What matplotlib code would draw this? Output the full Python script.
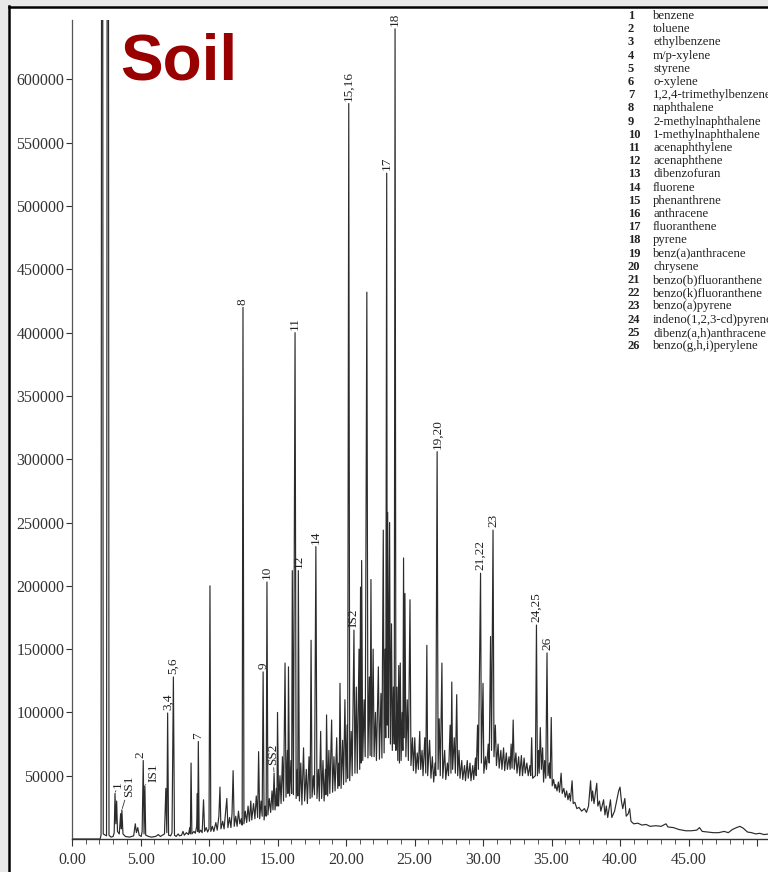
import matplotlib
matplotlib.use("Agg")
import matplotlib.pyplot as plt
from matplotlib.ticker import FixedLocator, MultipleLocator, FuncFormatter
from matplotlib.patches import Rectangle
from matplotlib.lines import Line2D

# trace vertices: (retention time in min, abundance)
trace_early = [
    (0.0, 0), (2.05, 0), (2.12, 3000), (2.2, 1500000), (2.28, 4000), (2.52, 2500),
    (2.62, 1500000), (2.7, 3000), (2.85, 1500), (3.0, 2000), (3.08, 5000), (3.14, 36000),
    (3.2, 12000), (3.26, 30000), (3.32, 6000), (3.45, 4000), (3.55, 20000), (3.6, 8000),
    (3.64, 23000), (3.72, 4000), (3.9, 2000), (4.2, 1500), (4.5, 2500), (4.62, 12000),
    (4.7, 5000), (4.8, 9000), (4.9, 3000), (5.05, 2000), (5.12, 6000), (5.2, 62000),
    (5.26, 4000), (5.32, 42000), (5.38, 3000), (5.6, 2000), (5.8, 1500), (6.1, 2000),
    (6.3, 3500), (6.45, 2000), (6.6, 3000), (6.75, 4000), (6.85, 40000), (6.92, 5000),
    (6.98, 99500), (7.05, 3000), (7.2, 2500), (7.3, 5000), (7.4, 128000), (7.48, 3000),
    (7.6, 2000), (7.75, 4000), (7.85, 2500), (8.0, 3000), (8.1, 6000), (8.2, 3000),
    (8.35, 5000), (8.5, 3500), (8.6, 9000), (8.64, 4000), (8.69, 60000), (8.75, 4000),
    (8.9, 6000), (9.0, 4500), (9.1, 10000), (9.15, 36000), (9.18, 6000), (9.22, 77000),
    (9.28, 5000), (9.4, 7000), (9.5, 5000), (9.6, 31000), (9.68, 6000), (9.8, 9000),
    (9.9, 5500), (10.0, 8000), (10.07, 200000), (10.13, 6000),
]

trace_mid = [
    (10.25, 10000), (10.35, 6000), (10.5, 13000), (10.6, 7000), (10.72, 18000), (10.8, 41000),
    (10.87, 8000), (11.0, 14000), (11.1, 8000), (11.2, 20000), (11.3, 32000), (11.38, 9000),
    (11.5, 17000), (11.6, 9000), (11.68, 20000), (11.76, 54000), (11.84, 10000), (11.95, 18000),
    (12.05, 10000), (12.15, 22000), (12.25, 12000), (12.35, 16000), (12.42, 11000), (12.48, 420000),
    (12.55, 12000), (12.65, 22000), (12.75, 13000), (12.85, 26000), (12.95, 14000), (13.05, 30000),
    (13.12, 15000), (13.25, 28000), (13.35, 16000), (13.45, 34000), (13.55, 17000), (13.62, 69000),
    (13.7, 16000), (13.8, 30000), (13.88, 18000), (13.95, 132000), (14.02, 15000), (14.1, 26000),
    (14.17, 18000), (14.23, 203000), (14.3, 19000), (14.4, 32000), (14.5, 21000), (14.6, 38000),
    (14.67, 23000), (14.75, 52000), (14.82, 23000), (14.92, 40000), (14.96, 26000), (15.0, 100000),
    (15.08, 26000), (15.18, 50000), (15.26, 28000), (15.36, 65000), (15.44, 30000), (15.55, 139000),
    (15.62, 33000), (15.72, 70000), (15.76, 36000), (15.8, 136000), (15.88, 34000), (15.98, 62000),
    (16.03, 36000), (16.08, 212000), (16.16, 35000), (16.28, 400000), (16.36, 32000), (16.45, 55000),
    (16.48, 34000), (16.52, 212000), (16.6, 30000), (16.7, 60000), (16.78, 27000), (16.9, 72000),
    (16.98, 30000), (17.1, 55000), (17.18, 28000), (17.3, 65000), (17.38, 32000), (17.45, 157000),
    (17.52, 33000), (17.62, 50000), (17.7, 35000), (17.8, 231000), (17.88, 32000), (17.98, 55000),
    (18.05, 30000), (18.15, 85000), (18.22, 32000), (18.32, 62000), (18.4, 30000), (18.5, 55000),
    (18.53, 35000), (18.58, 98000), (18.66, 34000), (18.75, 70000), (18.82, 36000), (18.95, 94000),
    (19.02, 37000), (19.12, 65000), (19.2, 38000), (19.32, 80000), (19.4, 40000), (19.48, 60000),
    (19.5, 42000), (19.56, 123000), (19.64, 40000), (19.75, 78000), (19.82, 43000), (19.92, 110000),
    (20.0, 45000), (20.08, 90000), (20.12, 48000), (20.2, 581000), (20.27, 46000), (20.38, 85000),
    (20.45, 50000), (20.58, 165000), (20.65, 52000), (20.75, 120000), (20.82, 52000), (20.95, 150000),
    (21.0, 55000), (21.06, 199000), (21.1, 60000), (21.14, 220000), (21.22, 62000), (21.32, 110000),
    (21.4, 65000), (21.52, 432000), (21.6, 64000), (21.7, 128000), (21.76, 66000), (21.82, 205000),
    (21.88, 65000), (21.98, 150000), (22.05, 65000), (22.15, 100000), (22.22, 62000), (22.36, 136000),
    (22.44, 63000), (22.55, 115000), (22.62, 64000), (22.72, 244000), (22.78, 68000), (22.85, 150000),
    (22.9, 80000), (22.97, 526000), (23.01, 90000), (23.04, 258000), (23.1, 80000), (23.18, 250000),
    (23.24, 75000), (23.32, 170000), (23.38, 70000), (23.46, 120000), (23.52, 75000), (23.58, 640000),
    (23.64, 70000), (23.72, 120000), (23.78, 62000), (23.85, 137000), (23.9, 60000), (23.96, 139000),
    (24.02, 62000), (24.1, 100000), (24.15, 70000), (24.2, 222000), (24.25, 80000), (24.3, 194000),
    (24.37, 65000), (24.47, 110000), (24.55, 62000), (24.67, 189000), (24.74, 58000), (24.85, 80000),
    (24.92, 54000), (25.02, 80000), (25.1, 52000), (25.2, 68000), (25.28, 55000), (25.38, 85000),
    (25.45, 55000), (25.55, 70000), (25.62, 50000), (25.75, 80000), (25.82, 52000), (25.9, 153000),
    (25.96, 50000), (26.1, 78000), (26.2, 48000), (26.3, 65000), (26.4, 45000), (26.5, 60000),
    (26.55, 50000), (26.65, 306000), (26.72, 55000), (26.8, 95000), (26.88, 50000), (27.0, 139000),
    (27.06, 48000), (27.2, 70000), (27.28, 47000), (27.4, 60000), (27.48, 50000), (27.6, 90000),
    (27.66, 52000), (27.72, 124000), (27.78, 55000), (27.9, 80000), (27.98, 52000), (28.08, 114000),
    (28.15, 50000), (28.25, 70000), (28.32, 48000), (28.45, 62000), (28.52, 47000), (28.65, 58000),
    (28.72, 46000), (28.85, 62000), (28.92, 48000), (29.05, 60000), (29.12, 46000), (29.25, 58000),
    (29.32, 47000), (29.45, 64000), (29.5, 50000), (29.6, 90000), (29.66, 55000), (29.82, 210000),
    (29.88, 60000), (30.0, 123000), (30.06, 52000), (30.18, 65000), (30.25, 55000), (30.38, 75000),
    (30.45, 60000), (30.55, 160000), (30.62, 70000), (30.73, 244000), (30.8, 65000), (30.9, 90000),
    (30.98, 58000), (31.1, 75000), (31.18, 56000), (31.3, 70000), (31.38, 55000), (31.5, 72000),
    (31.58, 54000), (31.7, 68000), (31.78, 55000), (31.9, 65000), (31.98, 55000), (32.05, 75000),
    (32.12, 56000), (32.2, 94000), (32.28, 55000), (32.4, 68000), (32.48, 52000), (32.6, 65000),
    (32.68, 50000), (32.8, 66000), (32.88, 50000), (33.0, 64000), (33.08, 52000), (33.2, 60000),
    (33.3, 50000), (33.42, 58000), (33.48, 50000), (33.55, 80000), (33.62, 48000), (33.82, 50000),
    (33.9, 169000), (33.97, 50000), (34.05, 70000), (34.1, 52000), (34.18, 88000), (34.26, 55000),
    (34.35, 72000), (34.42, 45000), (34.5, 62000), (34.58, 48000), (34.67, 147000), (34.74, 50000),
    (34.85, 60000), (34.9, 48000), (34.98, 96000), (35.05, 42000),
]

trace_late = [
    (35.15, 47000), (35.25, 40000), (35.3, 43000), (35.4, 38000), (35.5, 45000), (35.58, 37000),
    (35.7, 52000), (35.78, 36000), (35.9, 40000), (36.0, 33000), (36.1, 38000), (36.2, 31000),
    (36.3, 36000), (36.38, 30000), (36.5, 46000), (36.58, 28000), (36.7, 29000), (36.85, 24000),
    (37.0, 25000), (37.2, 22000), (37.4, 24000), (37.55, 21000), (37.7, 26000), (37.85, 46000),
    (37.93, 30000), (38.0, 38000), (38.1, 28000), (38.3, 44000), (38.38, 26000), (38.5, 30000),
    (38.6, 22000), (38.8, 31000), (38.9, 19000), (39.0, 26000), (39.1, 17000), (39.3, 31000),
    (39.4, 17000), (39.6, 22000), (39.75, 30000), (39.9, 38000), (40.0, 41000), (40.1, 30000),
    (40.2, 24000), (40.35, 32000), (40.45, 18000), (40.6, 20000), (40.7, 24000), (40.8, 14000),
    (41.0, 12000), (41.3, 12500), (41.6, 11000), (41.9, 11500), (42.2, 10000), (42.6, 10500),
    (43.0, 10000), (43.35, 12000), (43.5, 9500), (43.9, 9000), (44.3, 7500), (44.8, 6500),
    (45.2, 6500), (45.6, 7000), (45.8, 9000), (46.0, 6000), (46.4, 5500), (46.8, 5000),
    (47.2, 5000), (47.6, 6000), (47.9, 5000), (48.2, 7500), (48.5, 9000), (48.75, 10000),
    (49.0, 8500), (49.3, 5500), (49.6, 5000), (49.9, 4000), (50.2, 4500), (50.5, 3500), (50.9, 4000),
]

# labelled peaks (label, retention time of the apex)
peak_labels = ["1", "SS1", "2", "IS1", "3,4", "5,6", "7", "8", "9", "10", "SS2", "11", "12",
               "14", "15,16", "IS2", "17", "18", "19,20", "21,22", "23", "24,25", "26"]
peak_rt = [3.14, 3.64, 5.2, 5.32, 6.98, 7.4, 9.22, 12.48, 13.95, 14.23, 14.75, 16.28, 16.52,
           17.8, 20.2, 20.58, 22.97, 23.58, 26.65, 29.82, 30.73, 33.9, 34.67]

compounds = ["benzene", "toluene", "ethylbenzene", "m/p-xylene", "styrene", "o-xylene",
             "1,2,4-trimethylbenzene", "naphthalene", "2-methylnaphthalene",
             "1-methylnaphthalene", "acenaphthylene", "acenaphthene", "dibenzofuran",
             "fluorene", "phenanthrene", "anthracene", "fluoranthene", "pyrene",
             "benz(a)anthracene", "chrysene", "benzo(b)fluoranthene", "benzo(k)fluoranthene",
             "benzo(a)pyrene", "indeno(1,2,3-cd)pyrene", "dibenz(a,h)anthracene",
             "benzo(g,h,i)perylene"]

x_major = [0, 5, 10, 15, 20, 25, 30, 35, 40, 45, 50]
y_ticks = [50000, 100000, 150000, 200000, 250000, 300000, 350000, 400000, 450000, 500000,
           550000, 600000]

trace = trace_early + trace_mid + trace_late
rt = [p[0] for p in trace]
abundance = [p[1] for p in trace]

W, H = 768, 872
fig = plt.figure(figsize=(W / 100, H / 100), dpi=100)
fig.patch.set_facecolor("white")

# scanned-page border (grey margin + black frame line)
fig.add_artist(Rectangle((0, 0), 8 / W, 1, transform=fig.transFigure, color="#e8e8e8", lw=0))
fig.add_artist(Rectangle((0, 1 - 6 / H), 1, 6 / H, transform=fig.transFigure, color="#e8e8e8", lw=0))
fig.add_artist(Line2D([9 / W, 9 / W], [0, 1 - 6 / H], transform=fig.transFigure, color="black", lw=1.8))
fig.add_artist(Line2D([9 / W, 1], [1 - 7 / H, 1 - 7 / H], transform=fig.transFigure, color="black", lw=1.8))

ax = fig.add_axes([72 / W, 33 / H, (W - 72) / W, (839 - 20) / H])
ax.plot(rt, abundance, color="#2b2b2b", lw=0.85)
ax.set_xlim(0, 50.8)
ax.set_ylim(0, 647000)

for s in ["top", "right"]:
    ax.spines[s].set_visible(False)
ax.spines["left"].set_color("#555555")
ax.spines["left"].set_linewidth(0.9)
ax.spines["bottom"].set_color("#333333")
ax.spines["bottom"].set_linewidth(1.0)

serif = "Liberation Serif"
ax.xaxis.set_major_locator(FixedLocator(x_major))
ax.xaxis.set_minor_locator(MultipleLocator(1))
ax.xaxis.set_major_formatter(FuncFormatter(lambda v, p: "" if v > 46 else f"{v:.2f}"))
ax.yaxis.set_major_locator(FixedLocator(y_ticks))
ax.yaxis.set_major_formatter(FuncFormatter(lambda v, p: f"{int(v)}"))
ax.tick_params(axis="x", which="major", direction="out", length=5, width=0.8, pad=4,
               labelsize=11.5, colors="#333333")
ax.tick_params(axis="x", which="minor", direction="out", length=3.5, width=0.7, colors="#555555")
ax.tick_params(axis="y", direction="out", length=4, width=0.8, pad=1.5, labelsize=11.5,
               colors="#333333")
for lab in ax.get_xticklabels() + ax.get_yticklabels():
    lab.set_fontfamily(serif)

# peak labels, placed above each apex
leader = {"SS1": (5, 9), "IS1": (6, 3), "SS2": (-1, 6), "1": (2, 4)}
shift = {"2": (-2, 2)}
for lab, t in zip(peak_labels, peak_rt):
    h = abundance[rt.index(t)]
    dx, dy = leader.get(lab, shift.get(lab, (0, 2)))
    arrow = dict(arrowstyle="-", lw=0.6, color="#333333", shrinkA=0, shrinkB=1) if lab in leader else None
    ax.annotate(lab, xy=(t, h), xytext=(dx, dy), textcoords="offset points",
                rotation=90, ha="center", va="bottom", fontsize=9.5, family=serif,
                color="#222222", arrowprops=arrow, annotation_clip=False)

# title
fig.text(120 / W, 1 - 80 / H, "Soil", fontsize=46, fontweight="bold", color="#990000",
         family="Liberation Sans", va="baseline", ha="left")

# compound key
for i, name in enumerate(compounds):
    y = 1 - (16 + i * 13.2) / H
    fig.text(628 / W, y, str(i + 1), fontsize=9, fontweight="bold", family=serif,
             va="center", ha="left", color="#222222")
    fig.text(653 / W, y, name, fontsize=9.2, family=serif, va="center", ha="left",
             color="#222222")

fig.savefig("out.png", dpi=100)
